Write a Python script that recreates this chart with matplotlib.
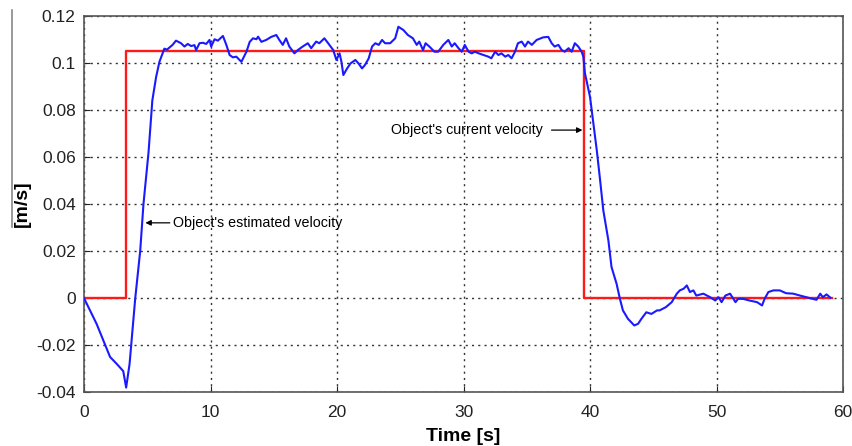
import matplotlib
matplotlib.use("Agg")
import matplotlib.pyplot as plt
from matplotlib.lines import Line2D

plt.rcParams["font.family"] = ["Liberation Sans", "DejaVu Sans"]

# Reference (commanded) velocity, step shape
ref_time = [0.0, 3.3, 3.3, 39.5, 39.5, 59.1]
ref_vel = [0.0, 0.0, 0.105, 0.105, 0.0, 0.0]

# Estimated velocity
est_time = [
    0.0, 1.0, 2.06, 2.6, 3.1, 3.33, 3.6, 4.05, 4.44, 4.7, 5.1, 5.4, 5.7, 5.96,
    6.35, 6.56, 7.0, 7.27, 7.67, 7.94, 8.2, 8.47, 8.73, 8.86, 9.13, 9.39, 9.66,
    9.92, 10.05, 10.32, 10.58, 10.98, 11.25, 11.51, 11.77, 12.04, 12.44, 12.84,
    13.1, 13.36, 13.63, 13.76, 14.02, 14.4, 14.8, 15.2, 15.44, 15.71, 15.97,
    16.23, 16.63, 16.9, 17.29, 17.69, 17.96, 18.35, 18.6, 19.0, 19.3, 19.7,
    19.95, 20.2, 20.35, 20.5, 20.8, 21.06, 21.45, 21.7, 21.98, 22.2, 22.5,
    22.77, 23.03, 23.3, 23.56, 23.8, 24.2, 24.6, 24.85, 25.25, 25.6, 26.0,
    26.3, 26.5, 26.8, 27.0, 27.3, 27.7, 28.0, 28.4, 28.8, 29.07, 29.3, 29.6,
    29.86, 30.1, 30.4, 30.65, 30.9, 31.2, 31.57, 31.96, 32.2, 32.5, 32.76,
    33.0, 33.3, 33.54, 33.8, 34.07, 34.3, 34.6, 34.86, 35.1, 35.4, 35.78,
    36.3, 36.7, 36.97, 37.2, 37.5, 37.76, 38.0, 38.3, 38.55, 38.8, 39.07,
    39.34, 39.47, 39.6, 40.0, 40.27, 40.53, 40.8, 41.05, 41.45, 41.7, 42.1,
    42.35, 42.6, 43.0, 43.5, 43.8, 44.06, 44.45, 44.85, 45.3, 45.5, 46.0,
    46.46, 46.86, 47.1, 47.4, 47.65, 47.9, 48.17, 48.4, 48.96, 49.5, 49.9,
    50.16, 50.4, 50.7, 51.07, 51.5, 51.7, 52.1, 52.6, 53.2, 53.6, 53.8, 54.1,
    54.5, 55.0, 55.5, 56.07, 56.6, 57.1, 57.6, 57.9, 58.2, 58.4, 58.7, 59.0,
]
est_vel = [
    0.0, -0.011, -0.025, -0.028, -0.031, -0.038, -0.028, 0.0, 0.02, 0.04,
    0.062, 0.084, 0.094, 0.1004, 0.106, 0.1056, 0.1076, 0.1094, 0.1083, 0.1069,
    0.108, 0.1071, 0.1075, 0.1054, 0.1083, 0.1085, 0.108, 0.1097, 0.1069, 0.11,
    0.1094, 0.1114, 0.1076, 0.1033, 0.1023, 0.1026, 0.1004, 0.1047, 0.1089,
    0.1104, 0.11, 0.1111, 0.1089, 0.1097, 0.111, 0.1118, 0.1097, 0.1076,
    0.1104, 0.1069, 0.104, 0.1054, 0.1069, 0.1083, 0.1062, 0.109, 0.1083,
    0.1104, 0.1083, 0.1054, 0.1012, 0.104, 0.1004, 0.0948, 0.0976, 0.0997,
    0.1012, 0.0997, 0.0976, 0.099, 0.1018, 0.1069, 0.1083, 0.1076, 0.1097,
    0.1083, 0.1083, 0.1104, 0.1153, 0.1139, 0.1118, 0.1104, 0.1076, 0.109,
    0.1054, 0.1083, 0.1069, 0.1047, 0.1047, 0.1076, 0.1097, 0.1069, 0.1083,
    0.1062, 0.1047, 0.1076, 0.1047, 0.104, 0.1047, 0.104, 0.1033, 0.1026,
    0.1019, 0.1047, 0.1033, 0.104, 0.1026, 0.1033, 0.1019, 0.1047, 0.1083,
    0.109, 0.1069, 0.109, 0.1076, 0.1097, 0.1108, 0.111, 0.1083, 0.1069,
    0.1076, 0.1054, 0.1047, 0.1062, 0.1047, 0.1083, 0.1069, 0.1047, 0.1026,
    0.0955, 0.0855, 0.0742, 0.063, 0.05, 0.0373, 0.0246, 0.0132, 0.0061, 0.0,
    -0.0052, -0.0088, -0.0116, -0.0109, -0.0088, -0.006, -0.0067, -0.0052,
    -0.0052, -0.0038, -0.0017, 0.0019, 0.0033, 0.004, 0.0054, 0.0026, 0.0033,
    0.0011, 0.0019, 0.0004, -0.001, 0.0004, -0.0017, 0.0011, 0.0019, -0.0017,
    -0.0003, -0.0003, -0.001, -0.0017, -0.0031, -0.0003, 0.0026, 0.0033,
    0.0033, 0.0021, 0.0019, 0.0011, 0.0004, -0.0003, -0.0007, 0.0019, 0.0004,
    0.0016, 0.0002,
]

x_ticks = [0, 10, 20, 30, 40, 50, 60]
y_ticks = [-0.04, -0.02, 0, 0.02, 0.04, 0.06, 0.08, 0.1, 0.12]
y_tick_labels = ["-0.04", "-0.02", "0", "0.02", "0.04", "0.06", "0.08", "0.1", "0.12"]

fig = plt.figure(figsize=(8.53, 4.46), dpi=100)
ax = fig.add_axes([0.0985, 0.1204, 0.8898, 0.8444])

ax.plot(ref_time, ref_vel, color="#ff1a1a", linewidth=1.7, zorder=3)
ax.plot(est_time, est_vel, color="#1a1aff", linewidth=1.5, zorder=4)

ax.set_xlim(0, 60)
ax.set_ylim(-0.04, 0.12)
ax.set_xticks(x_ticks)
ax.set_yticks(y_ticks)
ax.set_yticklabels(y_tick_labels)
ax.tick_params(direction="in", length=4, labelsize=12.5, colors="#222222")
ax.tick_params(axis="x", pad=9)
ax.tick_params(axis="y", pad=6)
ax.grid(True, color="#333333", linestyle=(0, (1.5, 3)), linewidth=1.0)
for spine in ax.spines.values():
    spine.set_color("#555555")
    spine.set_linewidth(1.2)

ax.set_xlabel("Time [s]", fontsize=14, fontweight="bold", labelpad=6)
ax.set_ylabel("[m/s]", fontsize=14, fontweight="bold", labelpad=4)

ax.annotate("Object's estimated velocity", xy=(4.85, 0.032), xytext=(7.0, 0.032),
            fontsize=10.3, va="center", ha="left",
            arrowprops=dict(arrowstyle="-|>", color="black", lw=0.9,
                            mutation_scale=8, shrinkA=0, shrinkB=0))
ax.annotate("Object's current velocity", xy=(39.4, 0.0714), xytext=(36.3, 0.0714),
            fontsize=10.3, va="center", ha="right",
            arrowprops=dict(arrowstyle="-|>", color="black", lw=0.9,
                            mutation_scale=8, shrinkA=4, shrinkB=0))

# grey scan edge at the left of the original image
fig.add_artist(Line2D([12 / 853, 12 / 853], [1 - 10 / 446, 1 - 227 / 446],
                      color="#888888", linewidth=1.2))

fig.savefig("out.png", dpi=100)
